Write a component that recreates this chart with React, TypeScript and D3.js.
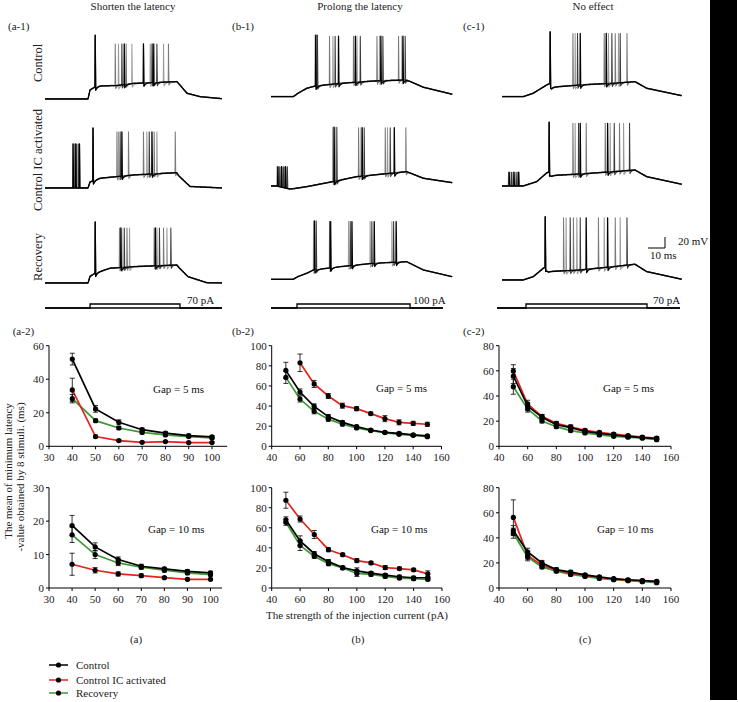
import React, { useEffect } from 'react';
import * as d3 from 'd3';

const FONT = "'Liberation Serif','Times New Roman',Times,serif";
const BLACK = '#000000';
const RED = '#e3241c';
const GREEN = '#3a9a35';

// ---------------- line-chart data ----------------
const currentsA = [40, 50, 60, 70, 80, 90, 100];
const currentsBC = [50, 60, 70, 80, 90, 100, 110, 120, 130, 140, 150];
const currentsB5IC = [60, 70, 80, 90, 100, 110, 120, 130, 140, 150];

const a5Control = [52, 22.3, 14.3, 9.9, 7.9, 6.4, 5.6];
const a5ControlErr = [3.5, 2, 1.5, 1, 0.8, 0.8, 0.8];
const a5IC = [33.6, 5.8, 3.4, 2.4, 2.8, 2.2, 2.2];
const a5ICErr = [7, 0.8, 0.6, 0.5, 0.5, 0.4, 0.4];
const a5Rec = [28.4, 15.3, 10.9, 8.3, 6.8, 5.8, 5.0];
const a5RecErr = [2.5, 1, 0.8, 0.8, 0.6, 0.6, 0.5];

const a10Control = [18.7, 12.3, 8.5, 6.5, 5.7, 5.0, 4.5];
const a10ControlErr = [3, 1.2, 0.8, 0.6, 0.5, 0.5, 0.5];
const a10IC = [7.1, 5.3, 4.2, 3.7, 3.1, 2.6, 2.6];
const a10ICErr = [3.3, 0.8, 0.6, 0.5, 0.3, 0.4, 0.3];
const a10Rec = [15.9, 10.0, 7.5, 6.2, 5.3, 4.5, 4.0];
const a10RecErr = [2.3, 1.2, 0.8, 0.6, 0.5, 0.5, 0.4];

const b5Control = [75.5, 54, 39.7, 29.5, 23.8, 19.5, 16.2, 13.9, 12.9, 11.3, 10.3];
const b5ControlErr = [8, 3, 2.5, 2, 1.5, 1.5, 1.2, 1, 1, 1, 1];
const b5IC = [83, 62, 50, 40.4, 37.4, 32.5, 27.5, 23.8, 22.8, 21.9];
const b5ICErr = [8.7, 3.5, 2.5, 2.5, 2, 1.5, 3, 2.5, 2, 2];
const b5Rec = [68.5, 47, 34.8, 27, 21.9, 18.2, 15.6, 13.6, 11.9, 10.9, 9.6];
const b5RecErr = [6, 3, 2.5, 2, 1.5, 1.5, 1, 1, 1, 1, 1];

const b10Control = [68, 47, 34.2, 26.3, 20.4, 17.1, 14.8, 12.8, 11.2, 10.2, 10.2];
const b10ControlErr = [3, 5, 2, 2, 1.5, 3, 1.5, 1.5, 1.5, 1.5, 1.5];
const b10IC = [87.5, 68.8, 53.3, 38.2, 33.2, 27.3, 25, 20.4, 19.4, 18.1, 14.1];
const b10ICErr = [8, 3, 4, 2, 1.5, 2, 1.5, 2, 1.5, 1.5, 3];
const b10Rec = [65.5, 42.4, 31.6, 24.3, 20, 14.5, 13.5, 11.5, 9.9, 9.2, 8.6];
const b10RecErr = [3, 5, 2, 2, 1.5, 3, 1.5, 1.5, 1.5, 1.5, 1.5];

const c5Control = [55.9, 32, 23, 17.2, 14.8, 11.9, 10.3, 9, 7.9, 6.9, 6.1];
const c5ControlErr = [6, 3, 2, 1.5, 2, 1.2, 1, 1, 1, 1, 1];
const c5IC = [59.9, 33.6, 23.8, 18.3, 15.4, 12.7, 11.1, 9.8, 8.5, 7.4, 6.6];
const c5ICErr = [5, 3, 1.5, 1.5, 1.5, 1, 1, 1, 1, 1, 1];
const c5Rec = [47.4, 29.7, 20.1, 15.6, 12.5, 10.6, 9, 7.9, 7.2, 6.4, 5.3];
const c5RecErr = [6, 2.5, 1.5, 1.2, 1.2, 1, 1, 1, 1, 1, 1];

const c10Control = [45.8, 28.7, 20, 14.7, 12.6, 10.5, 8.9, 7.4, 6.6, 6, 5.3];
const c10ControlErr = [4, 3, 2, 1.5, 1.5, 1, 1, 1, 1, 1, 1];
const c10IC = [56.3, 26, 18.2, 14.2, 11.6, 10, 8.4, 7.1, 6.3, 5.8, 5];
const c10ICErr = [14, 3, 2, 1.5, 1.5, 1, 1, 1, 1, 1, 1];
const c10Rec = [43.7, 24.7, 16.8, 13.4, 10.8, 9.2, 7.6, 6.6, 5.8, 5, 4.2];
const c10RecErr = [4, 3, 1.5, 1.2, 1.2, 1, 1, 1, 1, 1, 1];

const xTicksA = [30, 40, 50, 60, 70, 80, 90, 100];
const xTicksBC = [40, 60, 80, 100, 120, 140, 160];
const yTicksA5 = [0, 20, 40, 60];
const yTicksA10 = [0, 10, 20, 30];
const yTicksB = [0, 20, 40, 60, 80, 100];
const yTicksC = [0, 20, 40, 60, 80];

const legendLabels = ['Control', 'Control IC activated', 'Recovery'];
const gapLabels = ['Gap = 5 ms', 'Gap = 10 ms'];
const columnTitles = ['Shorten the latency', 'Prolong the latency', 'No effect'];
const rowLabels = ['Control', 'Control IC activated', 'Recovery'];
const stimCurrents = [70, 100, 70];

// ---------------- trace data (ms, mV above rest) ----------------
type Env = [number, number][];
interface TraceSpec { env: Env; firstPeak: number; peak: number; sweeps: number[][]; pre?: number[][]; preH?: number; end: number; }

const traceA1: TraceSpec = {
  env: [[0, 0], [25.3, 0], [26.5, 16.4], [29.4, 21.8], [32.4, 23.6], [42.4, 24.5], [51.8, 28.2], [77.6, 31.5], [78.8, 27.3], [83.5, 10.4], [91.2, 4.2], [104.1, 0.5]],
  firstPeak: 116, peak: 100, end: 104.1,
  sweeps: [[29.4, 41.2, 47.6, 57.8, 64.1, 72.5], [29.3, 43.1, 51.0, 61.8, 69.6], [29.5, 45.1, 62.8, 65.7], [29.4, 46.5, 57.8, 63.5]],
};
const traceA2: TraceSpec = {
  env: [[0, 0], [25.3, 0], [26.5, 10.9], [28.1, 12.7], [32.4, 17.6], [51.8, 23.6], [77.5, 27.8], [78.8, 21.8], [85.3, 2.7], [104.1, 0]],
  firstPeak: 109, peak: 102, end: 104.1,
  sweeps: [[28.1, 42.2, 49.0, 57.8, 64.1, 76.5], [28.0, 43.1, 59.8, 65.7], [28.2, 44.1, 61.2], [28.1, 45.1, 62.8]],
  pre: [[16.3, 18.4, 20.3], [16.9, 19.1], [17.5, 19.8], [16.4, 18.0, 20.1]], preH: 80,
};
const traceA3: TraceSpec = {
  env: [[0, 0], [25.3, 0], [26.5, 12], [29.4, 17.6], [38.2, 26.7], [51.8, 29.6], [77.5, 32.7], [78.8, 28], [84.1, 11.5], [95.1, 0.5], [104.1, 0]],
  firstPeak: 111, peak: 100, end: 104.1,
  sweeps: [[29.4, 43.7, 48.1, 64.1, 69.6], [29.3, 45.1, 49.6, 65.7, 71.6], [29.5, 46.5, 67.2, 73.9], [29.4, 44.5, 64.8]],
};
const traceB1: TraceSpec = {
  env: [[0, 0], [13.1, 0], [15.9, 6.2], [21, 15.1], [25.9, 19.3], [40.6, 24.2], [60.2, 28.4], [79.8, 30.4], [89.6, 17.1], [106.6, 4.4]],
  firstPeak: 112, peak: 110, end: 106.6,
  sweeps: [[25.9, 34.3, 48.4, 62.2, 74.9], [26.5, 36.3, 50.4, 63.7, 76.9], [27.2, 37.6, 52.4, 65.7, 78.8], [26.2, 39.6, 49.5, 64.5, 77.5]],
};
const traceB2: TraceSpec = {
  env: [[0, 0], [3.3, 0], [11, -5.5], [13.1, -5], [21, -1.3], [36.3, 7.8], [50.4, 16.9], [79.8, 26], [89.6, 14], [106.6, 6]],
  firstPeak: 107, peak: 106, end: 106.6,
  sweeps: [[36.3, 51.4, 67.1, 79.2], [37.6, 52.8, 68.4], [38.6, 54.7, 70.0], [37.0, 53.5, 72.4]],
  pre: [[3.5, 5.8, 8.0], [4.3, 6.5, 8.8], [5.0, 7.3, 9.5], [3.9, 6.1, 8.4]], preH: 35,
};
const traceB3: TraceSpec = {
  env: [[0, 0], [13.1, 0], [15.9, 5], [21, 10.9], [25, 17], [40.6, 22.9], [60.2, 29.1], [79.8, 32], [89.6, 17], [106.6, 4.7]],
  firstPeak: 106, peak: 105, end: 106.6,
  sweeps: [[24.9, 34.3, 45.5, 58.2, 71.0], [26.5, 35.1, 46.5, 59.2, 72.0], [25.5, 34.7, 47.5, 60.6, 73.5]],
};
const traceC1: TraceSpec = {
  env: [[0, 0], [12.5, 0], [18.4, 6.2], [26.3, 21.3], [28.2, 24], [29.2, 17.1], [45.9, 21.3], [65.5, 24.4], [78.2, 27.3], [85.1, 15.3], [105.7, 1.8]],
  firstPeak: 118, peak: 115, end: 105.7,
  sweeps: [[28.2, 41.6, 60.0, 66.5, 73.4], [28.1, 42.9, 62.5, 68.4], [28.3, 44.3, 64.5, 69.4], [28.2, 45.9, 61.2]],
};
const traceC2: TraceSpec = {
  env: [[0, 0], [12.5, 0], [20.4, 7.8], [26.3, 23.7], [27.6, 25.5], [29.2, 18.9], [45.9, 21.8], [65.5, 26], [78.2, 29.1], [85.1, 16.9], [105.7, 3.1]],
  firstPeak: 116, peak: 114, end: 105.7,
  sweeps: [[27.6, 41.6, 49.4, 60.6, 69.0], [27.5, 42.9, 63.5, 71.4], [27.7, 44.9, 65.9, 74.9], [27.6, 45.9, 62.0]],
  pre: [[3.7, 6.4, 9.1], [4.6, 7.3, 10.0], [5.5, 8.2], [4.1, 6.9, 9.6]], preH: 25,
};
const traceC3: TraceSpec = {
  env: [[0, 0], [12.5, 0], [18.4, 6], [24.3, 21.3], [25.3, 23], [27.3, 15.2], [45.9, 18.2], [65.5, 24.2], [78.2, 28.6], [85.1, 15.2], [105.7, 1.3]],
  firstPeak: 115, peak: 113, end: 105.7,
  sweeps: [[25.3, 36.1, 41.9, 56.6, 66.5], [25.2, 37.6, 43.9, 60.0, 69.4], [25.4, 40.0, 45.9, 73.4], [25.3, 49.4, 62.0]],
};

// current step (ms): start, on, off, end
const stepA = [0, 26.5, 79.4, 104.1];
const stepB = [0, 15.3, 81.8, 101.2];
const stepC = [-2.9, 14.1, 85.3, 104.7];

const sweepOffsets = [0.6, -0.5, 0.3, 0];
const sweepColors = ['#7a7a7a', '#9a9a9a', '#3a3a3a', '#000000'];

// ---------------- layout ----------------
const W = 738, H = 702;
const MS_PX = 1.7;   // 10 ms = 17 px
const MV_PX = 0.55;  // 20 mV = 11 px
const colX0 = [45, 271, 502];
const rowBase = [[99, 188, 283], [96.7, 186, 279.3], [96.7, 186, 280]];
const columns = [
  { traces: [traceA1, traceA2, traceA3], step: stepA },
  { traces: [traceB1, traceB2, traceB3], step: stepB },
  { traces: [traceC1, traceC2, traceC3], step: stepC },
];

function envAt(env: Env, t: number) {
  if (t <= env[0][0]) return env[0][1];
  for (let i = 1; i < env.length; i++) {
    if (t <= env[i][0]) {
      const [t0, v0] = env[i - 1];
      const [t1, v1] = env[i];
      return v0 + (v1 - v0) * (t - t0) / (t1 - t0);
    }
  }
  return env[env.length - 1][1];
}

function sweepPoints(spec: TraceSpec, spikes: number[], off: number, pre: number[]): [number, number][] {
  const ahp = (t: number) => spikes.reduce((s, ts) => (t >= ts + 0.4 && t < ts + 5 ? s + 6 * Math.exp(-(t - ts - 0.4) / 0.9) : s), 0);
  const base = (t: number) => envAt(spec.env, t) + off - ahp(t);
  const all = spikes.map((ts, i) => ({ ts, peak: i === 0 ? spec.firstPeak : spec.peak }))
    .concat(pre.map((ts) => ({ ts, peak: spec.preH || 30 })));
  const special: { t: number; v: number | null }[] = [];
  all.forEach(({ ts, peak }) => {
    special.push({ t: ts, v: null });
    special.push({ t: ts + 0.12, v: peak });
    special.push({ t: ts + 0.4, v: null });
  });
  const grid = d3.range(0, spec.end, 0.25)
    .filter((t) => !all.some(({ ts }) => t > ts && t < ts + 0.4))
    .map((t) => ({ t, v: null as number | null }));
  grid.push({ t: spec.end, v: null });
  return grid.concat(special).sort((a, b) => a.t - b.t).map((p) => [p.t, p.v == null ? base(p.t) : p.v]);
}

interface Series { x: number[]; y: number[]; err: number[]; color: string; }
interface PanelCfg {
  xDomain: [number, number]; xRange: [number, number]; xAxisMax: number; xTicks: number[];
  yDomain: [number, number]; yRange: [number, number]; yTicks: number[];
  series: Series[]; gap: string; gapPos: [number, number];
}

const TOP: [number, number] = [446.3, 345.7];
const BOT: [number, number] = [588, 487.7];
const mk = (x: number[], y: number[], err: number[], color: string): Series => ({ x, y, err, color });

const panels: PanelCfg[] = [
  { xDomain: [30, 100], xRange: [49, 212], xAxisMax: 106.5, xTicks: xTicksA, yDomain: [0, 60], yRange: TOP, yTicks: yTicksA5,
    series: [mk(currentsA, a5Rec, a5RecErr, GREEN), mk(currentsA, a5IC, a5ICErr, RED), mk(currentsA, a5Control, a5ControlErr, BLACK)], gap: gapLabels[0], gapPos: [153, 389] },
  { xDomain: [40, 160], xRange: [271.7, 441.5], xAxisMax: 160, xTicks: xTicksBC, yDomain: [0, 100], yRange: TOP, yTicks: yTicksB,
    series: [mk(currentsBC, b5Rec, b5RecErr, GREEN), mk(currentsB5IC, b5IC, b5ICErr, RED), mk(currentsBC, b5Control, b5ControlErr, BLACK)], gap: gapLabels[0], gapPos: [376, 388] },
  { xDomain: [40, 160], xRange: [499, 671], xAxisMax: 160, xTicks: xTicksBC, yDomain: [0, 80], yRange: TOP, yTicks: yTicksC,
    series: [mk(currentsBC, c5Rec, c5RecErr, GREEN), mk(currentsBC, c5IC, c5ICErr, RED), mk(currentsBC, c5Control, c5ControlErr, BLACK)], gap: gapLabels[0], gapPos: [603, 388] },
  { xDomain: [30, 100], xRange: [49, 210.5], xAxisMax: 105, xTicks: xTicksA, yDomain: [0, 30], yRange: BOT, yTicks: yTicksA10,
    series: [mk(currentsA, a10Rec, a10RecErr, GREEN), mk(currentsA, a10IC, a10ICErr, RED), mk(currentsA, a10Control, a10ControlErr, BLACK)], gap: gapLabels[1], gapPos: [148, 529] },
  { xDomain: [40, 160], xRange: [271.7, 442], xAxisMax: 160, xTicks: xTicksBC, yDomain: [0, 100], yRange: BOT, yTicks: yTicksB,
    series: [mk(currentsBC, b10Rec, b10RecErr, GREEN), mk(currentsBC, b10IC, b10ICErr, RED), mk(currentsBC, b10Control, b10ControlErr, BLACK)], gap: gapLabels[1], gapPos: [371, 529] },
  { xDomain: [40, 160], xRange: [499, 671], xAxisMax: 160, xTicks: xTicksBC, yDomain: [0, 80], yRange: BOT, yTicks: yTicksC,
    series: [mk(currentsBC, c10Rec, c10RecErr, GREEN), mk(currentsBC, c10IC, c10ICErr, RED), mk(currentsBC, c10Control, c10ControlErr, BLACK)], gap: gapLabels[1], gapPos: [597, 529] },
];

function Panel({ cfg }: { cfg: PanelCfg }) {
  const x = d3.scaleLinear().domain(cfg.xDomain).range(cfg.xRange);
  const y = d3.scaleLinear().domain(cfg.yDomain).range(cfg.yRange);
  const y0 = y(cfg.yDomain[0]);
  const x0 = x(cfg.xDomain[0]);
  const line = d3.line<[number, number]>().x((d) => x(d[0])).y((d) => y(d[1]));
  return (
    <g>
      <line x1={x0} x2={x(cfg.xAxisMax)} y1={y0} y2={y0} stroke="#000" strokeWidth={1} />
      <line x1={x0} x2={x0} y1={y0} y2={y(cfg.yDomain[1])} stroke="#000" strokeWidth={1} />
      {cfg.xTicks.map((t) => (
        <g key={'x' + t}>
          <line x1={x(t)} x2={x(t)} y1={y0} y2={y0 + 3} stroke="#000" strokeWidth={1} />
          <text x={x(t)} y={y0 + 15} fontSize={11} textAnchor="middle" fontFamily={FONT} fill="#222">{t}</text>
        </g>
      ))}
      {cfg.yTicks.map((t) => (
        <g key={'y' + t}>
          <line x1={x0 - 3} x2={x0} y1={y(t)} y2={y(t)} stroke="#000" strokeWidth={1} />
          <text x={x0 - 5} y={y(t)} fontSize={11} textAnchor="end" dominantBaseline="central" fontFamily={FONT} fill="#222">{t}</text>
        </g>
      ))}
      {cfg.series.map((s, si) => (
        <path key={'l' + si} d={line(s.x.map((v, i) => [v, s.y[i]] as [number, number])) || ''} fill="none" stroke={s.color} strokeWidth={1.7} />
      ))}
      {cfg.series.map((s, si) => (
        <g key={'e' + si}>
          {s.x.map((v, i) => (
            <g key={i}>
              <line x1={x(v)} x2={x(v)} y1={y(s.y[i] - s.err[i])} y2={y(s.y[i] + s.err[i])} stroke="#000" strokeWidth={0.8} />
              <line x1={x(v) - 2.5} x2={x(v) + 2.5} y1={y(s.y[i] + s.err[i])} y2={y(s.y[i] + s.err[i])} stroke="#000" strokeWidth={0.8} />
              <line x1={x(v) - 2.5} x2={x(v) + 2.5} y1={y(s.y[i] - s.err[i])} y2={y(s.y[i] - s.err[i])} stroke="#000" strokeWidth={0.8} />
            </g>
          ))}
        </g>
      ))}
      {cfg.series.map((s, si) => (
        <g key={'m' + si}>
          {s.x.map((v, i) => <circle key={i} cx={x(v)} cy={y(s.y[i])} r={2.6} fill="#000" />)}
        </g>
      ))}
      <text x={cfg.gapPos[0]} y={cfg.gapPos[1]} fontSize={11} dominantBaseline="central" fontFamily={FONT} fill="#111">{cfg.gap}</text>
    </g>
  );
}

function TraceColumn({ ci }: { ci: number }) {
  const col = columns[ci];
  const t = d3.scaleLinear().domain([0, 1]).range([colX0[ci], colX0[ci] + MS_PX]);
  return (
    <g>
      {col.traces.map((spec, ri) => {
        const base = rowBase[ci][ri];
        const v = d3.scaleLinear().domain([0, 1]).range([base, base - MV_PX]);
        const line = d3.line<[number, number]>().x((d) => t(d[0])).y((d) => v(d[1]));
        const n = spec.sweeps.length;
        return (
          <g key={ri}>
            {spec.sweeps.map((sp, si) => {
              const idx = si + (4 - n);
              const pre = spec.pre ? spec.pre[si] || [] : [];
              return (
                <path key={si} d={line(sweepPoints(spec, sp, sweepOffsets[idx], pre)) || ''} fill="none"
                  stroke={sweepColors[idx]} strokeWidth={idx === 3 ? 1.3 : 1.05} strokeLinejoin="round" />
              );
            })}
          </g>
        );
      })}
      {(() => {
        const [s, on, off, e] = col.step;
        const c = d3.scaleLinear().domain([0, stimCurrents[ci]]).range([308, 304]);
        const amp = stimCurrents[ci];
        const pts: [number, number][] = [[s, 0], [on, 0], [on, amp], [off, amp], [off, 0], [e, 0]];
        const line = d3.line<[number, number]>().x((d) => t(d[0])).y((d) => c(d[1]));
        return (
          <g>
            <line x1={t(s)} x2={t(e)} y1={c(0)} y2={c(0)} stroke="#000" strokeWidth={1.4} />
            <path d={line(pts) || ''} fill="none" stroke="#000" strokeWidth={1.3} />
          </g>
        );
      })()}
    </g>
  );
}

export default function App() {
  useEffect(() => {
    document.body.style.margin = '0';
  }, []);
  const legendY = [665, 680, 693];
  const legendColors = [BLACK, RED, GREEN];
  return (
    <svg width={W} height={H} viewBox={`0 0 ${W} ${H}`} style={{ display: 'block', position: 'absolute', left: 0, top: 0, background: '#fff' }}
      fontFamily={FONT}>
      <rect x={0} y={0} width={W} height={H} fill="#fff" />
      {columnTitles.map((s, i) => (
        <text key={s} x={[133, 360, 593][i]} y={10} fontSize={11} textAnchor="middle" fill="#222">{s}</text>
      ))}
      {['(a-1)', '(b-1)', '(c-1)'].map((s, i) => (
        <text key={s} x={[8, 232, 463][i]} y={29.5} fontSize={11} fill="#222">{s}</text>
      ))}
      {rowLabels.map((s, i) => (
        <text key={s} transform={`translate(38,${[63, 160, 257][i]}) rotate(-90)`} fontSize={12.5} textAnchor="middle" dominantBaseline="central" fill="#222">{s}</text>
      ))}
      {[0, 1, 2].map((ci) => <TraceColumn key={ci} ci={ci} />)}
      {stimCurrents.map((c, i) => (
        <text key={i} x={[187, 413, 653][i]} y={304} fontSize={11} fill="#111">{c} pA</text>
      ))}
      <path d="M648,248 L665,248 L665,237" fill="none" stroke="#000" strokeWidth={1} />
      <text x={678} y={245} fontSize={11} fill="#111">20 mV</text>
      <text x={650} y={258.5} fontSize={11} fill="#111">10 ms</text>

      {['(a-2)', '(b-2)', '(c-2)'].map((s, i) => (
        <text key={s} x={[12.7, 232, 463][i]} y={335} fontSize={11} fill="#222">{s}</text>
      ))}
      {panels.map((p, i) => <Panel key={i} cfg={p} />)}

      <text transform="translate(8,471) rotate(-90)" fontSize={11} textAnchor="middle" dominantBaseline="central" fill="#222">The mean of minimum latency</text>
      <text transform="translate(19.5,477) rotate(-90)" fontSize={11} textAnchor="middle" dominantBaseline="central" fill="#222">-value obtained by 8 stimuli. (ms)</text>
      <text x={357} y={619} fontSize={11} textAnchor="middle" fill="#222">The strength of the injection current (pA)</text>
      {['(a)', '(b)', '(c)'].map((s, i) => (
        <text key={s} x={[136, 358, 585][i]} y={643} fontSize={11} textAnchor="middle" fill="#222">{s}</text>
      ))}

      {legendLabels.map((s, i) => (
        <g key={s}>
          <line x1={49} x2={68} y1={legendY[i]} y2={legendY[i]} stroke={legendColors[i]} strokeWidth={1.5} />
          <circle cx={58.5} cy={legendY[i]} r={2.6} fill="#000" />
          <text x={76} y={legendY[i]} fontSize={11} dominantBaseline="central" fill="#222">{s}</text>
        </g>
      ))}

      <rect x={710} y={0} width={27} height={700} fill="#000" />
    </svg>
  );
}
